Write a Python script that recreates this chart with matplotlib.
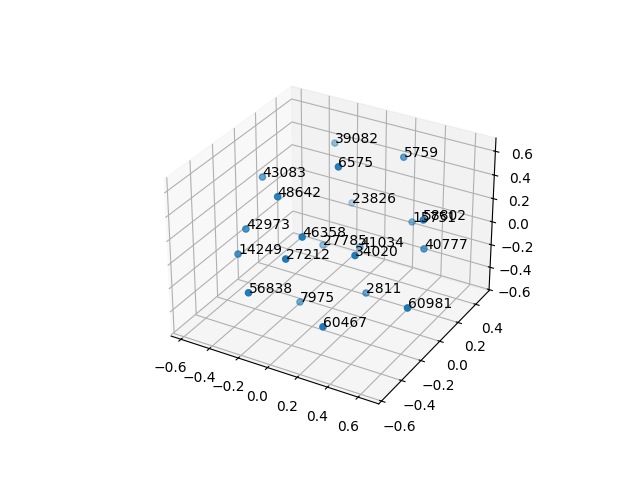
import matplotlib
matplotlib.use('Agg')
import matplotlib.pyplot as plt

labels = ['39082','5759','6575','43083','48642','23826','42973','46358','27785','41034','34020',
          '14249','27212','56838','7975','2811','60981','60467','15751','58802','40777']
xs = [-.305,.245,.103,-.474,-.170,-.227,-.378,.032,-.212,.037,.331,
      -.381,.013,-.146,-.144,.233,.683,.287,.273,.595,.510]
ys = [.474,.359,-.088,-.007,-.278,.540,-.297,-.334,.215,.231,-.261,
      -.370,-.462,-.590,-.115,.001,-.273,-.505,.420,.015,.170]
zs = [.386,.522,.700,.366,.496,-.161,.167,.275,-.293,-.232,.176,
      .008,.182,-.060,-.518,-.385,-.119,-.246,-.067,.361,-.029]

fig = plt.figure(figsize=(6.4, 4.8), dpi=100)
ax = fig.add_subplot(projection='3d')
ax.scatter(xs, ys, zs)
for l, x, y, z in zip(labels, xs, ys, zs):
    ax.text(x, y, z, l)
ax.set_xlim(-.67, .733)
ax.set_ylim(-.627, .554)
ax.set_zlim(-.61, .71)
fig.savefig('out.png', dpi=100)
